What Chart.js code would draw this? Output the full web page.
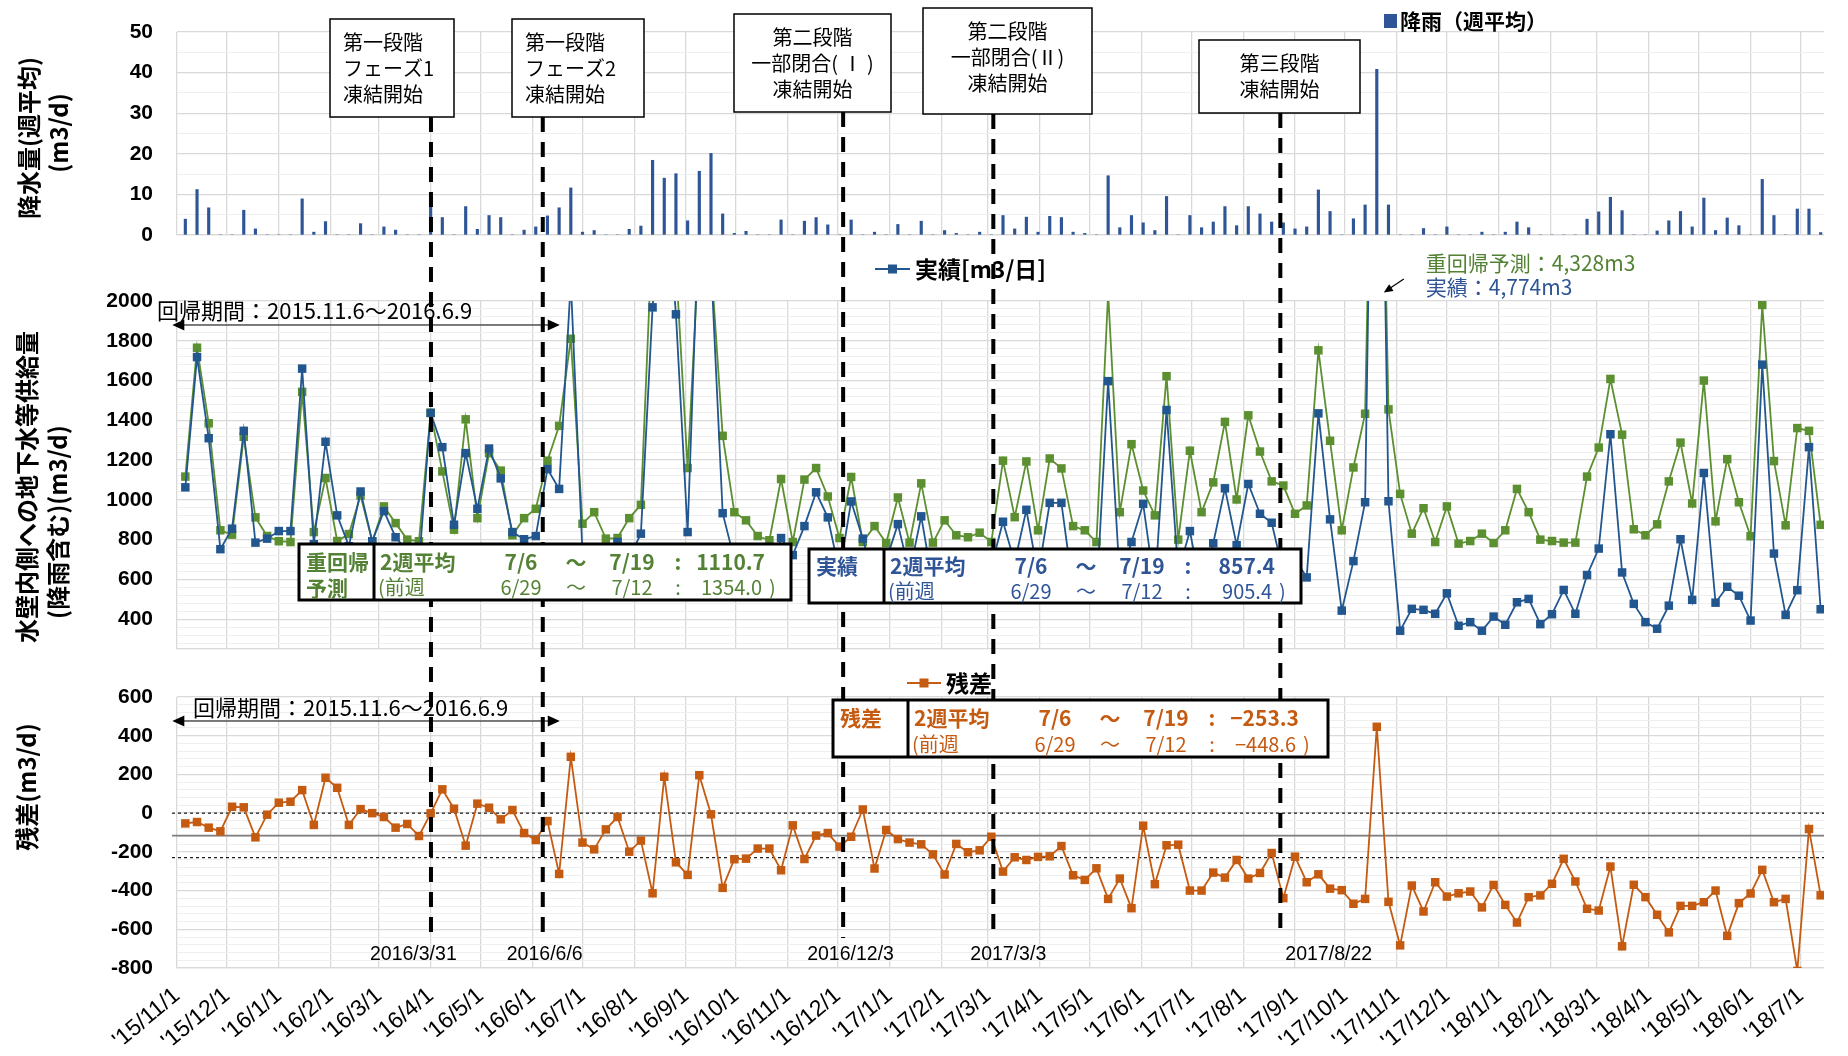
<!DOCTYPE html>
<html lang="ja">
<head>
<meta charset="UTF-8">
<meta name="viewport" content="width=device-width, initial-scale=1.0">
<title>地下水等供給量 実績・重回帰予測・残差</title>
<script src="https://cdn.jsdelivr.net/npm/chart.js"></script>
<style>
  html, body { margin: 0; padding: 0; background: #fff; }
  .panel { position: absolute; left: 0; width: 1848px; }
  #rainBox { top: 0; height: 245px; }
  #supplyBox { top: 245px; height: 410px; }
  #residualBox { top: 655px; height: 401px; }
</style>
</head>
<body>
<div class="panel" id="rainBox"><canvas id="rain"></canvas></div>
<div class="panel" id="supplyBox"><canvas id="supply"></canvas></div>
<div class="panel" id="residualBox"><canvas id="residual"></canvas></div>

<script>
// weekly series, one value per week starting 2015-11-06
const weekStart = '2015-11-06';

const rainfall = [
  3.9, 11.2, 6.7, 0, 0, 6.1, 1.5, 0, 0, 0,
  8.9, 0.7, 3.3, 0, 0, 2.8, 0, 2.0, 1.2, 0,
  0, 7.6, 4.3, 0, 7.0, 1.4, 4.8, 4.3, 0, 1.2,
  2.0, 4.7, 6.7, 11.6, 0.7, 1.1, 0, 0, 1.4, 2.2,
  18.4, 14.0, 15.1, 3.5, 15.7, 20.1, 5.2, 0.4, 0.9, 0,
  0, 3.7, 0, 3.4, 4.3, 2.5, 0, 3.7, 0, 0.7,
  0, 2.6, 0, 3.4, 0, 1.1, 0.4, 0, 0.7, 0,
  4.8, 1.5, 4.4, 0.7, 4.6, 4.3, 0.7, 0.4, 0, 14.6,
  1.8, 4.8, 3.0, 1.1, 9.5, 0, 4.8, 1.8, 3.2, 7.0,
  2.3, 7.0, 5.2, 3.2, 3.0, 1.5, 2.0, 11.1, 5.8, 0,
  4.0, 7.4, 40.8, 7.4, 0, 0, 1.6, 0, 2.0, 0,
  0, 0.7, 0, 0.7, 3.2, 1.8, 0, 0, 0, 0,
  3.9, 5.7, 9.3, 6.0, 0, 0, 1.0, 3.5, 5.8, 2.0,
  9.1, 1.1, 4.2, 2.3, 0, 13.7, 4.8, 0, 6.4, 6.4,
  0.6
];

const actual = [
  1063, 1718, 1310, 752, 855, 1347, 785, 805, 843, 843,
  1660, 777, 1292, 922, 767, 1042, 792, 943, 812, 744,
  674, 1437, 1265, 875, 1235, 955, 1258, 1108, 838, 802,
  818, 1155, 1055, 2101, 728, 751, 721, 788, 709, 830,
  1968, 2688, 1933, 838, 2496, 2194, 933, 700, 662, 635,
  614, 808, 722, 868, 1038, 912, 635, 992, 805, 582,
  696, 878, 633, 917, 572, 580, 663, 610, 643, 666,
  890, 685, 950, 621, 985, 985, 547, 502, 503, 1597,
  600, 788, 980, 555, 1452, 637, 843, 538, 782, 1058,
  772, 1080, 930, 885, 633, 705, 610, 1435, 902, 443,
  692, 988, 4774, 993, 342, 452, 447, 427, 530, 367,
  385, 342, 413, 372, 485, 502, 375, 425, 547, 427,
  622, 755, 1330, 635, 477, 385, 352, 468, 802, 497,
  1135, 483, 563, 518, 393, 1680, 730, 422, 545.8, 1265,
  449.8
];

const predicted = [
  1117, 1765, 1385, 847, 825, 1317, 912, 818, 792, 788,
  1543, 838, 1110, 793, 828, 1022, 792, 967, 883, 800,
  792, 1438, 1143, 850, 1405, 908, 1235, 1147, 822, 908,
  955, 1197, 1372, 1810, 880, 938, 805, 808, 908, 975,
  2382, 2500, 2187, 1160, 2300, 2200, 1322, 938, 897, 818,
  797, 1105, 788, 1102, 1160, 1017, 808, 1115, 788, 868,
  783, 1012, 785, 1083, 785, 897, 822, 812, 835, 788,
  1197, 913, 1193, 847, 1208, 1158, 868, 847, 788, 2040,
  938, 1280, 1047, 922, 1622, 800, 1247, 938, 1088, 1392,
  1002, 1425, 1243, 1093, 1072, 930, 972, 1752, 1297, 847,
  1163, 1433, 4328, 1455, 1030, 830, 958, 788, 967, 780,
  793, 830, 783, 847, 1055, 938, 800, 793, 785, 785,
  1117, 1263, 1608, 1328, 852, 822, 877, 1093, 1288, 982,
  1600, 892, 1205, 988, 817, 1980, 1195, 872, 1361, 1347,
  874.4
];

const residual = [
  -53, -46, -75, -94, 33, 30, -125, -8, 54, 59,
  119, -61, 183, 131, -61, 21, 0, -20, -75, -56,
  -118, -1, 123, 23, -168, 49, 28, -32, 16, -103,
  -139, -41, -314, 291, -152, -187, -84, -20, -199, -142,
  -414, 188, -254, -319, 196, -6, -386, -238, -235, -183,
  -183, -295, -63, -237, -116, -103, -173, -122, 19, -286,
  -87, -134, -152, -161, -213, -317, -159, -202, -192, -122,
  -302, -228, -242, -226, -223, -170, -321, -345, -285, -443,
  -338, -491, -65, -367, -166, -163, -400, -400, -307, -333,
  -242, -338, -309, -206, -439, -225, -357, -316, -390, -398,
  -468, -443, 446, -458, -683, -374, -508, -357, -431, -414,
  -405, -487, -371, -474, -565, -434, -425, -365, -236, -353,
  -494, -503, -276, -688, -370, -434, -525, -616, -479, -479,
  -460, -400, -634, -465, -415, -293, -460, -443, -815.2, -82,
  -424.6
];

// residual reference levels: zero, mean, lower band
const residualBands = [0, -116, -230];

const monthLabels = [
  "'15/11/1", "'15/12/1", "'16/1/1", "'16/2/1", "'16/3/1", "'16/4/1", "'16/5/1", "'16/6/1",
  "'16/7/1", "'16/8/1", "'16/9/1", "'16/10/1", "'16/11/1", "'16/12/1", "'17/1/1", "'17/2/1",
  "'17/3/1", "'17/4/1", "'17/5/1", "'17/6/1", "'17/7/1", "'17/8/1", "'17/9/1", "'17/10/1",
  "'17/11/1", "'17/12/1", "'18/1/1", "'18/2/1", "'18/3/1", "'18/4/1", "'18/5/1", "'18/6/1", "'18/7/1"
];

const phaseDates = ['2016-03-31', '2016-06-06', '2016-12-03', '2017-03-03', '2017-08-22'];
const phaseDateText = ['2016/3/31', '2016/6/6', '2016/12/3', '2017/3/3', '2017/8/22'];
const phaseText = [
  ['第一段階', 'フェーズ1', '凍結開始'],
  ['第一段階', 'フェーズ2', '凍結開始'],
  ['第二段階', '一部閉合( Ⅰ )', '凍結開始'],
  ['第二段階', '一部閉合(Ⅱ)', '凍結開始'],
  ['第三段階', '凍結開始']
];
const regressionPeriod = ['2015-11-06', '2016-06-09'];
const avgPeriod = ['7/6', '7/19'];
const prevPeriod = ['6/29', '7/12'];

// ---- helpers ----
const LATIN = "'Liberation Sans', Arial, sans-serif";
const JP = "'Noto Sans CJK JP', sans-serif";
const PLOT_LEFT = 177;
const PANEL = { rain: 0, supply: 245, residual: 655 };
const BLUE = '#22568f', GREEN = '#5b8f30', ORANGE = '#c55a11', BAR = '#2f5597';
const T_GREEN = '#548235', T_BLUE = '#2f5597', T_ORANGE = '#c55a11';

const ORIGIN = Date.UTC(2015, 10, 1);
const dayOf = (y, m, d) => (Date.UTC(y, m - 1, d) - ORIGIN) / 86400000;
const dayOfIso = s => { const [y, m, d] = s.split('-').map(Number); return dayOf(y, m, d); };
const dayOfTick = s => { const [y, m, d] = s.slice(1).split('/').map(Number); return dayOf(2000 + y, m, d); };
const dotted = s => s.split('-').map(Number).join('.');

const xDays = actual.map((_, i) => dayOfIso(weekStart) + 7 * i);
const monthDays = monthLabels.map(dayOfTick);
const xMin = dayOfIso('2015-11-01');
const xMax = dayOfIso('2018-07-15');
const pts = arr => arr.map((v, i) => ({ x: xDays[i], y: v }));

const phaseBoxes = [
  { x: 330, y: 19, w: 124, h: 98, align: 'left' },
  { x: 512, y: 19, w: 132, h: 98, align: 'left' },
  { x: 734, y: 14, w: 157, h: 98, align: 'center' },
  { x: 923, y: 8, w: 169, h: 106, align: 'center', shift: -4 },
  { x: 1199, y: 40, w: 161, h: 73, align: 'center' }
];
const dateLabelShift = [-59, -34, -34, -21, 7];
const DASH_END = 938;

function label(ctx, str, x, y, font, color, align) {
  ctx.font = font;
  ctx.fillStyle = color;
  ctx.textAlign = align || 'left';
  ctx.textBaseline = 'middle';
  ctx.fillText(str, x, y);
}

function vlabel(ctx, str, x, y, font) {
  ctx.save();
  ctx.translate(x, y);
  ctx.rotate(-Math.PI / 2);
  label(ctx, str, 0, 0, font, '#000', 'center');
  ctx.restore();
}

function arrowHead(ctx, x, y, angle, len, half) {
  ctx.save();
  ctx.translate(x, y);
  ctx.rotate(angle);
  ctx.beginPath();
  ctx.moveTo(0, 0);
  ctx.lineTo(-len, -half);
  ctx.lineTo(-len, half);
  ctx.closePath();
  ctx.fill();
  ctx.restore();
}

function legendMark(ctx, x1, x2, y, color) {
  ctx.strokeStyle = color;
  ctx.lineWidth = 2;
  ctx.setLineDash([]);
  ctx.beginPath();
  ctx.moveTo(x1, y);
  ctx.lineTo(x2, y);
  ctx.stroke();
  ctx.fillStyle = color;
  const m = (x1 + x2) / 2;
  ctx.fillRect(m - 4.5, y - 4.5, 9, 9);
}

function phaseLines(ctx, xs, top, bottom) {
  ctx.save();
  ctx.strokeStyle = '#000';
  ctx.lineWidth = 4;
  ctx.setLineDash([15, 10]);
  phaseDates.forEach((d, k) => {
    const x = xs.getPixelForValue(dayOfIso(d)) + 2;
    const anchor = phaseBoxes[k].y + phaseBoxes[k].h;
    const y0 = Math.max(top, anchor);
    const y1 = Math.min(bottom, DASH_END);
    ctx.lineDashOffset = (y0 - anchor) % 25;
    ctx.beginPath();
    ctx.moveTo(x, y0);
    ctx.lineTo(x, y1);
    ctx.stroke();
  });
  ctx.restore();
}

function periodNote(ctx, xs, textX, textY, arrowY) {
  const x1 = xs.getPixelForValue(dayOfIso(regressionPeriod[0])) - 13;
  const x2 = xs.getPixelForValue(dayOfIso(regressionPeriod[1])) + 14;
  ctx.strokeStyle = '#000';
  ctx.fillStyle = '#000';
  ctx.lineWidth = 1.2;
  ctx.setLineDash([]);
  ctx.beginPath();
  ctx.moveTo(x1 + 8, arrowY);
  ctx.lineTo(x2 - 8, arrowY);
  ctx.stroke();
  arrowHead(ctx, x1, arrowY, Math.PI, 12, 5.5);
  arrowHead(ctx, x2, arrowY, 0, 12, 5.5);
  label(ctx, '回帰期間：' + dotted(regressionPeriod[0]) + '〜' + dotted(regressionPeriod[1]),
    textX, textY, '22px ' + JP, '#000');
}

const avg2 = (arr, end) => (arr[end] + arr[end - 1]) / 2;
const fmtAvg = v => (v < 0 ? '−' : '') + Math.abs(v).toFixed(1);

function summaryTable(ctx, t, series) {
  const n = series.length - 1;
  ctx.save();
  ctx.setLineDash([]);
  ctx.fillStyle = '#fff';
  ctx.fillRect(t.x, t.y, t.w, t.h);
  ctx.strokeStyle = '#000';
  ctx.lineWidth = 3;
  ctx.strokeRect(t.x, t.y, t.w, t.h);
  ctx.beginPath();
  ctx.moveTo(t.x + 75, t.y);
  ctx.lineTo(t.x + 75, t.y + t.h);
  ctx.stroke();
  const r1 = t.y + t.h * 0.32, r2 = t.y + t.h * 0.78;
  const b = 'bold 21px ' + JP, r = '20px ' + JP, c = t.color;
  t.head.forEach((s, k) => label(ctx, s, t.x + 7, k ? r2 : r1, b, c));
  label(ctx, '2週平均', t.x + 81, r1, b, c);
  label(ctx, avgPeriod[0], t.x + 222, r1, b, c, 'center');
  label(ctx, '〜', t.x + 277, r1, b, c, 'center');
  label(ctx, avgPeriod[1], t.x + 333, r1, b, c, 'center');
  label(ctx, ':', t.x + 379, r1, b, c, 'center');
  label(ctx, fmtAvg(avg2(series, n)), t.x + 466, r1, b, c, 'right');
  label(ctx, '(前週', t.x + 79, r2, r, c);
  label(ctx, prevPeriod[0], t.x + 222, r2, r, c, 'center');
  label(ctx, '〜', t.x + 277, r2, r, c, 'center');
  label(ctx, prevPeriod[1], t.x + 333, r2, r, c, 'center');
  label(ctx, ':', t.x + 379, r2, r, c, 'center');
  label(ctx, fmtAvg(avg2(series, n - 1)), t.x + 463, r2, r, c, 'right');
  label(ctx, ')', t.x + 470, r2, r, c);
  ctx.restore();
}

// ---- scales ----
function xScale(showLabels, height) {
  return {
    type: 'linear', min: xMin, max: xMax, offset: false,
    afterBuildTicks: s => { s.ticks = monthDays.map(v => ({ value: v })); },
    afterFit: s => { s.height = height; },
    grid: { color: '#d9d9d9', lineWidth: 1.3, drawTicks: false, offset: false },
    border: { color: '#d9d9d9', width: 1.3 },
    ticks: {
      display: showLabels, autoSkip: false, minRotation: 40, maxRotation: 40, padding: 14,
      color: '#000', font: { family: LATIN, size: 23 },
      callback: (v, i) => monthLabels[i]
    }
  };
}

function yScale(min, max, step, major, labelFrom) {
  const isMajor = v => v % major === 0;
  return {
    type: 'linear', min, max,
    afterBuildTicks: s => {
      const t = [];
      for (let v = max; v >= min; v -= step) t.unshift({ value: v });
      s.ticks = t;
    },
    // fixed axis width; no extra room reserved above/below the plot for end labels
    afterFit: s => { s.width = PLOT_LEFT; s.paddingTop = 0; s.paddingBottom = 0; },
    border: { display: false },
    grid: {
      drawTicks: false,
      color: c => (c.tick && isMajor(c.tick.value)) ? '#d9d9d9' : '#efefef',
      lineWidth: c => (c.tick && isMajor(c.tick.value)) ? 1.3 : 1
    },
    ticks: {
      autoSkip: false, padding: 24, color: '#000', font: { family: LATIN, size: 21, weight: 'bold' },
      callback: v => (isMajor(v) && v >= labelFrom) ? String(v) : ''
    }
  };
}

const baseOptions = (padTop, x, y) => ({
  responsive: true, maintainAspectRatio: false, animation: false, events: [],
  layout: { padding: { top: padTop, right: 24, left: 0, bottom: 0 } },
  plugins: { legend: { display: false }, tooltip: { enabled: false } },
  scales: { x, y }
});

const lineSet = (data, color) => ({
  data: pts(data), borderColor: color, backgroundColor: color, borderWidth: 1.8,
  pointStyle: 'rect', pointRadius: 6, pointBorderWidth: 0, tension: 0, clip: 0
});

// ---- rainfall panel ----
const rainOverlay = {
  id: 'rainOverlay',
  afterDatasetsDraw(chart) {
    const ctx = chart.ctx;
    ctx.save();
    ctx.translate(0, -PANEL.rain);
    vlabel(ctx, '降水量(週平均)', 29, 138, 'bold 24px ' + JP);
    vlabel(ctx, '(m3/d)', 59, 133, 'bold 24px ' + JP);
    ctx.fillStyle = BAR;
    ctx.fillRect(1384, 14, 13, 14);
    label(ctx, '降雨（週平均）', 1400, 21, 'bold 21px ' + JP, '#000');
    phaseLines(ctx, chart.scales.x, PANEL.rain, PANEL.rain + chart.height);
    phaseBoxes.forEach((b, k) => {
      ctx.fillStyle = '#fff';
      ctx.fillRect(b.x, b.y, b.w, b.h);
      ctx.strokeStyle = '#000';
      ctx.lineWidth = 1.5;
      ctx.setLineDash([]);
      ctx.strokeRect(b.x, b.y, b.w, b.h);
      const lines = phaseText[k];
      const cy = b.y + b.h / 2 + (b.shift || 0);
      lines.forEach((s, j) => {
        const y = cy + (j - (lines.length - 1) / 2) * 26;
        if (b.align === 'left') label(ctx, s, b.x + 13, y, '20px ' + JP, '#000');
        else label(ctx, s, b.x + b.w / 2, y, '20px ' + JP, '#000', 'center');
      });
    });
    ctx.restore();
  }
};

new Chart(document.getElementById('rain'), {
  type: 'bar',
  data: { datasets: [{ data: pts(rainfall), backgroundColor: BAR, barThickness: 2.5, grouped: false }] },
  options: baseOptions(32, xScale(false, 10), yScale(0, 50, 5, 10, 0)),
  plugins: [rainOverlay]
});

// ---- supply panel: actual vs. regression ----
const supplyOverlay = {
  id: 'supplyOverlay',
  afterDatasetsDraw(chart) {
    const ctx = chart.ctx, xs = chart.scales.x;
    ctx.save();
    ctx.translate(0, -PANEL.supply);
    vlabel(ctx, '水壁内側への地下水等供給量', 27, 487, 'bold 24px ' + JP);
    vlabel(ctx, '(降雨含む)(m3/d)', 58, 522, 'bold 24px ' + JP);
    legendMark(ctx, 875, 910, 269, BLUE);
    label(ctx, '実績[m3/日]', 915, 269, 'bold 23px ' + JP, '#000');
    phaseLines(ctx, xs, PANEL.supply, PANEL.supply + chart.height);
    periodNote(ctx, xs, 157, 311, 325);

    // note for the week that runs off the top of the axis
    const k = actual.indexOf(Math.max(...actual));
    const sx = xs.getPixelForValue(xDays[k]);
    label(ctx, '重回帰予測：' + predicted[k].toLocaleString('en-US') + 'm3', sx + 49, 263, '21px ' + JP, T_GREEN);
    label(ctx, '実績：' + actual[k].toLocaleString('en-US') + 'm3', sx + 49, 287, '21px ' + JP, T_BLUE);
    ctx.strokeStyle = '#000';
    ctx.fillStyle = '#000';
    ctx.lineWidth = 1.2;
    ctx.beginPath();
    ctx.moveTo(sx + 27, 279);
    ctx.lineTo(sx + 12, 289);
    ctx.stroke();
    arrowHead(ctx, sx + 7, 292.5, Math.atan2(13, -20), 9, 4);

    summaryTable(ctx, { x: 299, y: 544, w: 492, h: 56, color: T_GREEN, head: ['重回帰', '予測'] }, predicted);
    summaryTable(ctx, { x: 809, y: 549, w: 492, h: 54, color: T_BLUE, head: ['実績'] }, actual);
    ctx.restore();
  }
};

new Chart(document.getElementById('supply'), {
  type: 'line',
  data: { datasets: [lineSet(actual, BLUE), lineSet(predicted, GREEN)] },
  options: baseOptions(56, xScale(false, 4), yScale(250, 2000, 40, 200, 400)),
  plugins: [supplyOverlay]
});

// ---- residual panel ----
const residualOverlay = {
  id: 'residualOverlay',
  beforeDatasetsDraw(chart) {
    const { ctx, chartArea: a } = chart, ys = chart.scales.y;
    residualBands.forEach((v, k) => {
      const py = ys.getPixelForValue(v);
      ctx.save();
      ctx.strokeStyle = k === 1 ? '#7f7f7f' : '#000';
      ctx.lineWidth = k === 1 ? 1.6 : 1.1;
      ctx.setLineDash(k === 1 ? [] : [3, 3]);
      ctx.beginPath();
      ctx.moveTo(a.left - 5, py);
      ctx.lineTo(a.right, py);
      ctx.stroke();
      ctx.restore();
    });
  },
  afterDatasetsDraw(chart) {
    const ctx = chart.ctx, xs = chart.scales.x;
    ctx.save();
    ctx.translate(0, -PANEL.residual);
    vlabel(ctx, '残差(m3/d)', 27, 787, 'bold 24px ' + JP);
    legendMark(ctx, 907, 941, 683, ORANGE);
    label(ctx, '残差', 946, 683, 'bold 23px ' + JP, '#000');
    phaseLines(ctx, xs, PANEL.residual, PANEL.residual + chart.height);
    phaseDates.forEach((d, k) => {
      const x = xs.getPixelForValue(dayOfIso(d));
      label(ctx, phaseDateText[k], x + dateLabelShift[k], 955, '19.5px ' + LATIN, '#000');
    });
    periodNote(ctx, xs, 193, 708, 721);
    summaryTable(ctx, { x: 833, y: 700, w: 495, h: 57, color: T_ORANGE, head: ['残差'] }, residual);
    ctx.restore();
  }
};

new Chart(document.getElementById('residual'), {
  type: 'line',
  data: { datasets: [lineSet(residual, ORANGE)] },
  options: baseOptions(42, xScale(true, 88), yScale(-800, 600, 40, 200, -800)),
  plugins: [residualOverlay]
});
</script>
</body>
</html>
